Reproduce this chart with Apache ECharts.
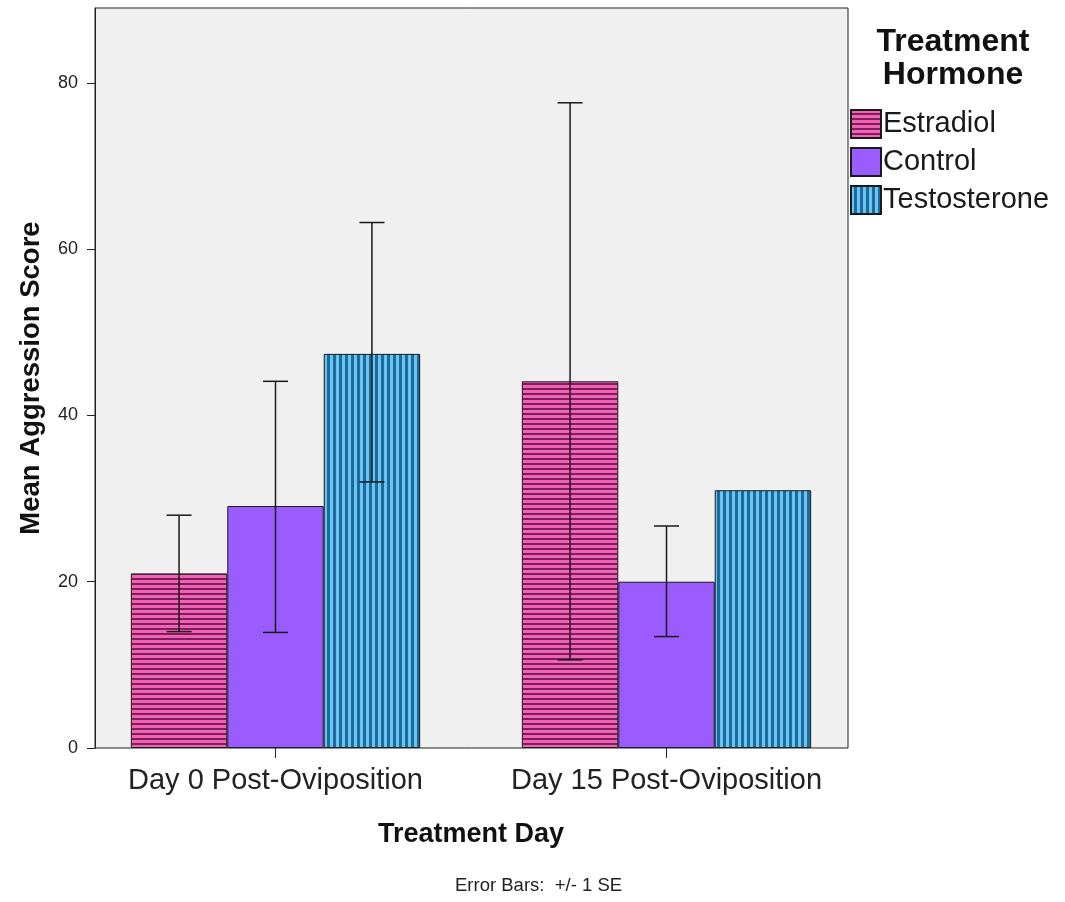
<!DOCTYPE html>
<html>
<head>
<meta charset="utf-8">
<script src="https://cdn.jsdelivr.net/npm/echarts@6/dist/echarts.min.js"></script>
<style>html,body{margin:0;padding:0;background:#fff;}#c{width:1065px;height:902px;}</style>
</head>
<body>
<div id="c"></div>
<script>
var categories = ['Day 0 Post-Oviposition', 'Day 15 Post-Oviposition'];
var seriesNames = ['Estradiol', 'Control', 'Testosterone'];
var estradiol = [21.0, 44.1];
var control = [29.1, 20.0];
var testosterone = [47.4, 31.0];
var estradiolErr = [[14.0, 28.0], [10.6, 77.6]];
var controlErr = [[13.9, 44.1], [13.4, 26.7]];
var testosteroneErr = [[32.0, 63.2], null];
var yTicks = [0, 20, 40, 60, 80];

function stripes(light, dark, horizontal, lightW, darkW) {
  var p = lightW + darkW;
  var c = document.createElement('canvas');
  c.width = horizontal ? 8 : p;
  c.height = horizontal ? p : 8;
  var ctx = c.getContext('2d');
  ctx.fillStyle = light;
  ctx.fillRect(0, 0, c.width, c.height);
  ctx.fillStyle = dark;
  if (horizontal) ctx.fillRect(0, lightW, c.width, darkW);
  else ctx.fillRect(lightW, 0, darkW, c.height);
  return { image: c, repeat: 'repeat' };
}

var fills = [
  stripes('#ef62b5', '#7e1f5a', true, 3, 2),
  '#9a5cff',
  stripes('#68c4f2', '#1f6a9a', false, 3, 3)
];
var values = [estradiol, control, testosterone];
var errs = [estradiolErr, controlErr, testosteroneErr];
var gapPct = 0.26;

var series = seriesNames.map(function (n, i) {
  return {
    name: n, type: 'bar', data: values[i],
    barGap: '0%', barCategoryGap: (gapPct * 100) + '%',
    itemStyle: { color: fills[i], borderColor: '#1a1a1a', borderWidth: 1 },
    emphasis: { disabled: true }
  };
});

var errData = [];
errs.forEach(function (arr, si) {
  arr.forEach(function (e, ci) {
    if (e) errData.push([ci, e[0], e[1], si]);
  });
});

series.push({
  type: 'custom', name: 'err', data: errData, z: 10, silent: true,
  renderItem: function (params, api) {
    var ci = api.value(0), lo = api.value(1), hi = api.value(2), si = api.value(3);
    var band = api.size([1, 0])[0];
    var bw = band * (1 - gapPct) / 3;
    var cx = api.coord([ci, 0])[0] + (si - 1) * bw;
    var yl = api.coord([ci, lo])[1], yh = api.coord([ci, hi])[1];
    var cap = 12.5;
    var st = { stroke: '#1a1a1a', lineWidth: 1.5 };
    return { type: 'group', children: [
      { type: 'line', shape: { x1: cx, y1: yl, x2: cx, y2: yh }, style: st },
      { type: 'line', shape: { x1: cx - cap, y1: yh, x2: cx + cap, y2: yh }, style: st },
      { type: 'line', shape: { x1: cx - cap, y1: yl, x2: cx + cap, y2: yl }, style: st }
    ]};
  }
});

var chart = echarts.init(document.getElementById('c'), null, { renderer: 'canvas' });
chart.setOption({
  animation: false,
  backgroundColor: '#ffffff',
  textStyle: { fontFamily: 'Liberation Sans' },
  grid: { left: 80, right: 203, top: 8, bottom: 154, show: false },
  legend: {
    orient: 'vertical', left: 850, top: 109, padding: 0, itemWidth: 30, itemHeight: 28, itemGap: 8,
    icon: 'rect',
    data: seriesNames,
    textStyle: { fontSize: 29, color: '#1a1a1a', fontFamily: 'Liberation Sans', lineHeight: 29, padding: [0, 0, 0, -3] },
    selectedMode: false
  },
  xAxis: {
    type: 'category', data: categories,
    name: 'Treatment Day', nameLocation: 'middle', nameGap: 73,
    nameTextStyle: { fontSize: 27, fontWeight: 'bold', color: '#111', fontFamily: 'Liberation Sans' },
    axisLine: { show: false },
    axisTick: { show: true, alignWithLabel: true, length: 10, lineStyle: { color: '#222' } },
    axisLabel: { interval: 0, fontSize: 29, color: '#222', margin: 18, fontFamily: 'Liberation Sans' }
  },
  yAxis: {
    type: 'value', min: 0, max: 89, interval: 20, offset: -15,
    name: 'Mean Aggression Score', nameLocation: 'middle', nameGap: 50,
    nameTextStyle: { fontSize: 27.5, fontWeight: 'bold', color: '#111', fontFamily: 'Liberation Sans' },
    axisLine: { show: true, lineStyle: { color: '#222', width: 1 } },
    axisTick: { show: true, length: 8, customValues: yTicks, lineStyle: { color: '#222' } },
    axisLabel: { fontSize: 18, color: '#222', margin: 17, fontFamily: 'Liberation Sans', customValues: yTicks },
    splitLine: { show: false }
  },
  graphic: [
    { type: 'rect', z: -10, shape: { x: 95, y: 8, width: 753, height: 740 },
      style: { fill: '#f0f0f0', stroke: null }, silent: true },
    { type: 'rect', z: 50, shape: { x: 95, y: 8, width: 753, height: 740 },
      style: { fill: null, stroke: '#222', lineWidth: 1 }, silent: true },
    { type: 'text', x: 953, y: 26, z: 100, style: { text: 'Treatment\nHormone', align: 'center',
      font: 'bold 32px "Liberation Sans"', fill: '#111', lineHeight: 33 } },
    { type: 'text', x: 455, y: 876, style: { text: 'Error Bars:  +/- 1 SE',
      font: '18.5px "Liberation Sans"', fill: '#222' } }
  ],
  series: series
});
</script>
</body>
</html>
